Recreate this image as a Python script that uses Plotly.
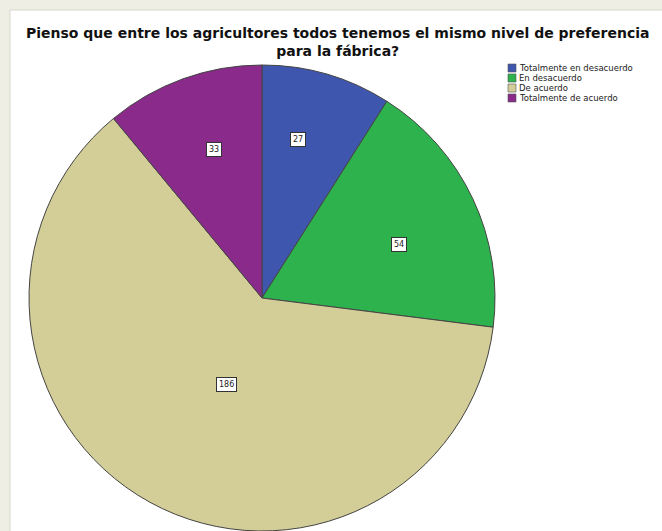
import math
import plotly.graph_objects as go

# Survey responses
categories = ["Totalmente en desacuerdo", "En desacuerdo", "De acuerdo", "Totalmente de acuerdo"]
counts = [27, 54, 186, 33]
colors = ["#3e56ad", "#2eb24d", "#d3cd97", "#8a2a8b"]
title_lines = [
    "Pienso que entre los agricultores todos tenemos el mismo nivel de preferencia",
    "para la fábrica?",
]

W, H = 662, 531


def px(x):
    return x / W


def py(y):
    return 1 - y / H


# Pie placement (pixels)
cx, cy, r = 262, 298, 233
label_radius = [0.73, 0.63, 0.45, 0.71]
label_turn = [-4, 4, -3, 0]  # small angular nudges (degrees) for the value boxes

fig = go.Figure(
    go.Pie(
        labels=categories,
        values=counts,
        sort=False,
        direction="clockwise",
        rotation=0,
        marker=dict(colors=colors, line=dict(color="#444444", width=1)),
        textinfo="none",
        hoverinfo="label+value",
        showlegend=False,
        domain=dict(x=[px(cx - r), px(cx + r)], y=[py(cy + r), py(cy - r)]),
    )
)

shapes = [
    dict(type="rect", xref="paper", yref="paper", x0=px(10), x1=px(W + 5), y0=py(H + 5), y1=py(10),
         fillcolor="white", line=dict(color="#d8d7cc", width=1), layer="below"),
]
annotations = []

# Value labels in small boxes, placed along each slice's mid-angle
total = sum(counts)
cum = 0
for i, v in enumerate(counts):
    mid = (cum + v / 2) / total * 2 * math.pi + math.radians(label_turn[i])
    cum += v
    rr = r * label_radius[i]
    lx = cx + rr * math.sin(mid)
    ly = cy - rr * math.cos(mid)
    annotations.append(dict(
        x=px(lx), y=py(ly), xref="paper", yref="paper", text=str(v), showarrow=False,
        font=dict(family="DejaVu Sans", size=8, color="#222"),
        bgcolor="white", bordercolor="#333", borderwidth=1, borderpad=2,
    ))

# Title (two centred lines)
annotations.append(dict(
    x=px(337), y=py(41.5), xref="paper", yref="paper",
    text="<br>".join(f"<b>{line}</b>" for line in title_lines),
    showarrow=False, xanchor="center", yanchor="middle", align="center",
    font=dict(family="DejaVu Sans", size=14, color="#111"),
))

# Compact legend
lx0, ly0, step, sw = 508, 68, 10, 8
for i, name in enumerate(categories):
    yc = ly0 + i * step
    shapes.append(dict(type="rect", xref="paper", yref="paper",
                       x0=px(lx0), x1=px(lx0 + sw), y0=py(yc + sw / 2), y1=py(yc - sw / 2),
                       fillcolor=colors[i], line=dict(color="#555", width=0.6)))
    annotations.append(dict(
        x=px(lx0 + sw + 1), y=py(yc), xref="paper", yref="paper", text=name, showarrow=False,
        xanchor="left", yanchor="middle",
        font=dict(family="DejaVu Sans", size=8.5, color="#222"),
    ))

fig.update_layout(
    width=W, height=H,
    margin=dict(l=0, r=0, t=0, b=0),
    paper_bgcolor="#efeee5",
    plot_bgcolor="white",
    shapes=shapes,
    annotations=annotations,
)

fig.write_html("out.html")
